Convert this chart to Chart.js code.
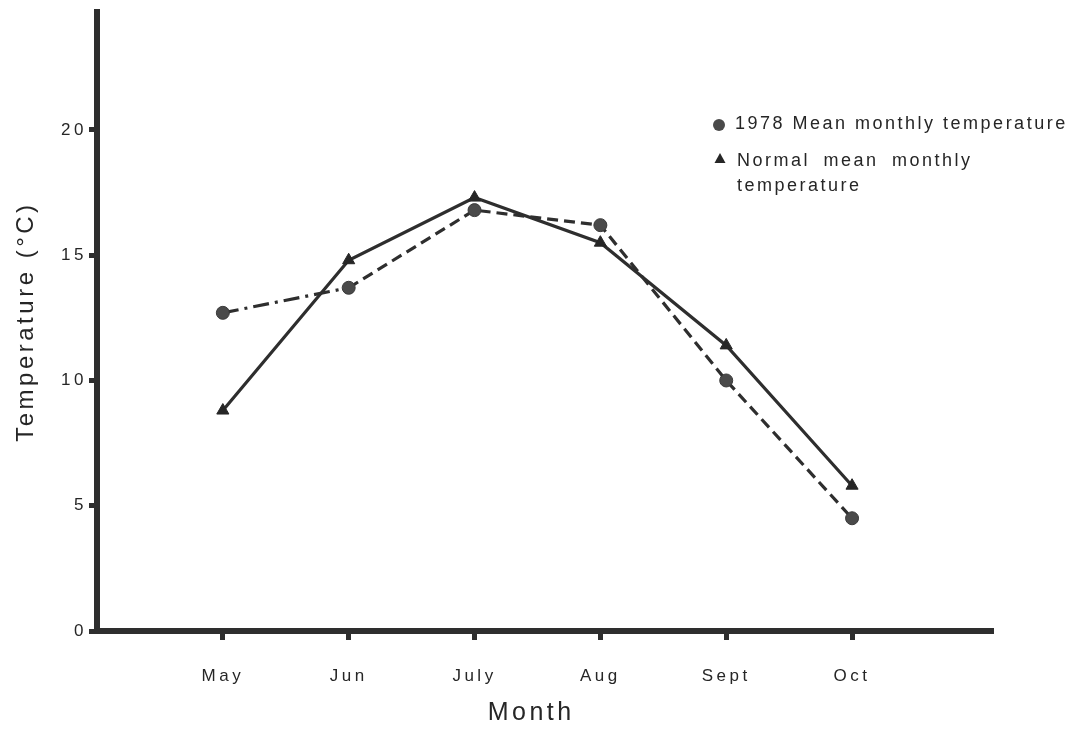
<!DOCTYPE html>
<html>
<head>
<meta charset="utf-8">
<script src="https://cdn.jsdelivr.net/npm/chart.js@4"></script>
<style>
  html, body { margin: 0; padding: 0; background: #ffffff; }
  #wrap { width: 1074px; height: 729px; }
  canvas { display: block; }
</style>
</head>
<body>
<div id="wrap"><canvas id="chart" width="1074" height="729"></canvas></div>
<script>
// Monthly mean air temperature, May to October (°C)
const months = ['May', 'Jun', 'July', 'Aug', 'Sept', 'Oct'];
const temp1978 = [12.7, 13.7, 16.8, 16.2, 10.0, 4.5];
const tempNormal = [8.8, 14.8, 17.3, 15.5, 11.4, 5.8];
const yTickValues = [0, 5, 10, 15, 20];
const xTitle = 'Month';

const INK = '#2e2e2e';
const MARK = '#4a4a4a';
const TEXT = '#262626';
const FONT = '"Liberation Sans", Arial, sans-serif';

// month i sits at x = i + 1 on the linear axis
const toPoints = arr => arr.map((v, i) => ({ x: i + 1, y: v }));

// letter-spaced lettering like the typeset figure
const spacing = {
  id: 'spacing',
  beforeDraw(chart) { chart.ctx.letterSpacing = '3.5px'; }
};

// axis caption under the month labels, set a little left of centre
const monthCaption = {
  id: 'monthCaption',
  afterDraw(chart) {
    const ctx = chart.ctx;
    const xs = chart.scales.x;
    ctx.save();
    ctx.letterSpacing = '3.5px';
    ctx.font = '25px ' + FONT;
    ctx.fillStyle = TEXT;
    ctx.textAlign = 'center';
    ctx.textBaseline = 'middle';
    ctx.fillText(xTitle, xs.getPixelForValue(3.45), 713);
    ctx.restore();
  }
};

// key in the upper right
const keyBox = {
  id: 'keyBox',
  afterDraw(chart) {
    const ctx = chart.ctx;
    ctx.save();
    ctx.letterSpacing = '2.5px';
    ctx.font = '18px ' + FONT;
    ctx.textBaseline = 'middle';
    ctx.textAlign = 'left';

    // circle entry
    ctx.beginPath();
    ctx.arc(719, 125, 6, 0, Math.PI * 2);
    ctx.fillStyle = MARK;
    ctx.fill();
    ctx.fillStyle = TEXT;
    ctx.fillText(chart.data.datasets[0].label, 735, 124);

    // triangle entry
    ctx.beginPath();
    ctx.moveTo(720, 153);
    ctx.lineTo(725.5, 163);
    ctx.lineTo(714.5, 163);
    ctx.closePath();
    ctx.fillStyle = '#262626';
    ctx.fill();
    ctx.fillStyle = TEXT;
    ctx.wordSpacing = '6px';
    const lines = chart.data.datasets[1].label;
    ctx.fillText(lines[0], 737, 161);
    ctx.fillText(lines[1], 737, 186);
    ctx.restore();
  }
};

new Chart(document.getElementById('chart'), {
  type: 'line',
  data: {
    datasets: [
      {
        label: '1978 Mean monthly temperature',
        data: toPoints(temp1978),
        borderColor: INK,
        borderWidth: 3.2,
        borderDash: [11, 6],
        segment: {
          borderDash: ctx => ctx.p0DataIndex === 0 ? [16, 6, 3, 6] : [11, 6]
        },
        pointStyle: 'circle',
        pointRadius: 6.5,
        pointBackgroundColor: MARK,
        pointBorderColor: '#3a3a3a',
        pointBorderWidth: 1,
        tension: 0,
        fill: false
      },
      {
        label: ['Normal mean monthly', 'temperature'],
        data: toPoints(tempNormal),
        borderColor: INK,
        borderWidth: 3.2,
        pointStyle: 'triangle',
        pointRadius: 7,
        pointBackgroundColor: '#262626',
        pointBorderColor: '#262626',
        pointBorderWidth: 1,
        tension: 0,
        fill: false
      }
    ]
  },
  options: {
    responsive: false,
    animation: false,
    events: [],
    layout: { padding: { top: 6, right: 81, left: 0, bottom: 0 } },
    plugins: {
      legend: { display: false },
      tooltip: { enabled: false }
    },
    scales: {
      x: {
        type: 'linear',
        min: 0,
        max: 7.12,
        afterBuildTicks: s => { s.ticks = months.map((m, i) => ({ value: i + 1 })); },
        afterFit: s => { s.height = 98; },
        ticks: {
          callback: v => months[v - 1],
          color: TEXT,
          font: { family: FONT, size: 17 },
          padding: 26,
          maxRotation: 0,
          autoSkip: false
        },
        grid: {
          drawOnChartArea: false,
          drawTicks: true,
          tickLength: 9,
          tickWidth: 5,
          tickColor: INK
        },
        border: { display: true, color: INK, width: 6 },
        title: { display: false }
      },
      y: {
        type: 'linear',
        min: 0,
        max: 24.7,
        afterBuildTicks: s => { s.ticks = yTickValues.map(v => ({ value: v })); },
        afterFit: s => { s.width = 97; },
        ticks: {
          color: TEXT,
          font: { family: FONT, size: 17 },
          padding: 2
        },
        grid: {
          drawOnChartArea: false,
          drawTicks: true,
          tickLength: 8,
          tickWidth: 5,
          tickColor: INK
        },
        border: { display: true, color: INK, width: 6 },
        title: {
          display: true,
          text: 'Temperature (°C)',
          color: TEXT,
          font: { family: FONT, size: 24 },
          padding: { top: 12, bottom: 0 }
        }
      }
    }
  },
  plugins: [spacing, monthCaption, keyBox]
});
</script>
</body>
</html>
